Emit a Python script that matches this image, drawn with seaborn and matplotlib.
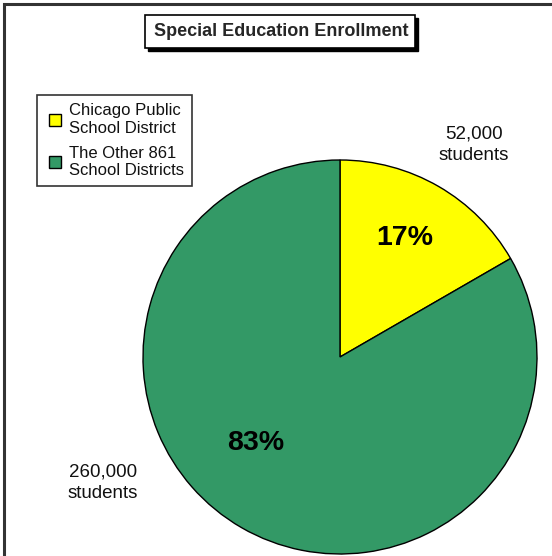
import matplotlib
matplotlib.use("Agg")
import matplotlib.pyplot as plt
import seaborn as sns
from matplotlib.patches import Rectangle
from matplotlib.lines import Line2D

sns.set_theme(style="white")
plt.rcParams['font.family'] = ['Liberation Sans', 'DejaVu Sans']

# ---- data ----
categories = ["Chicago Public\nSchool District", "The Other 861\nSchool Districts"]
students = [52000, 260000]
colors = ["#FFFF00", "#339966"]
title = "Special Education Enrollment"

W, H = 552, 556
fig = plt.figure(figsize=(W / 100, H / 100), dpi=100)
fig.patch.set_facecolor("white")

def fx(x):
    return x / W

def fy(y):
    return 1 - y / H

# outer frame (left and top edges visible, others run off the image)
fig.patches.append(Rectangle((fx(4), -0.2), 2.0, fy(4) + 0.2,
                             transform=fig.transFigure, fill=False, edgecolor="#333333", linewidth=2.2,
                             zorder=0))

# pie axes
cx, cy, r = 340, 357, 197
ax = fig.add_axes([fx(cx - r), fy(cy + r), 2 * r / W, 2 * r / H])
wedges, _ = ax.pie(students, colors=colors, startangle=90, counterclock=False,
                   wedgeprops=dict(edgecolor="black", linewidth=1.0))
ax.set_xlim(-1.0, 1.0)
ax.set_ylim(-1.0, 1.0)
ax.set_aspect("auto")
ax.axis("off")

total = sum(students)
pcts = [f"{round(v / total * 100)}%" for v in students]
fig.text(fx(405), fy(238), pcts[0], ha="center", va="center", fontsize=20.5, fontweight="bold", color="black")
fig.text(fx(256), fy(443), pcts[1], ha="center", va="center", fontsize=20.5, fontweight="bold", color="black")

fig.text(fx(474), fy(145), f"{students[0]:,}\nstudents", ha="center", va="center", fontsize=13.5,
         color="#111111", linespacing=1.35)
fig.text(fx(103), fy(483), f"{students[1]:,}\nstudents", ha="center", va="center", fontsize=13.5,
         color="#111111", linespacing=1.35)

# title box with shadow
bw, bh = (415 - 145) / W, (48 - 15) / H
fig.patches.append(Rectangle((fx(148), fy(51)), bw, bh, transform=fig.transFigure,
                             facecolor="black", edgecolor="black", zorder=1))
fig.patches.append(Rectangle((fx(145), fy(48)), bw, bh, transform=fig.transFigure,
                             facecolor="white", edgecolor="black", linewidth=1.2, zorder=2))
fig.text(fx(281), fy(32), title, ha="center", va="center", fontsize=13, fontweight="bold", zorder=3)

# legend
handles = [Line2D([], [], linestyle="none", marker="s", markersize=8.5, markerfacecolor=c,
                  markeredgecolor="black", markeredgewidth=1.0) for c in colors]
leg = fig.legend(handles, categories, loc="upper left", bbox_to_anchor=(fx(37), fy(95)),
                 frameon=True, fancybox=False, shadow=False, fontsize=12,
                 handlelength=1.2, handletextpad=0.2, labelspacing=0.6,
                 borderpad=0.5, borderaxespad=0)
leg.get_frame().set_edgecolor("black")
leg.get_frame().set_linewidth(1.2)
for t in leg.get_texts():
    t.set_linespacing(1.2)
    t.set_color("#111111")

fig.savefig("out.png", dpi=100, facecolor="white")
